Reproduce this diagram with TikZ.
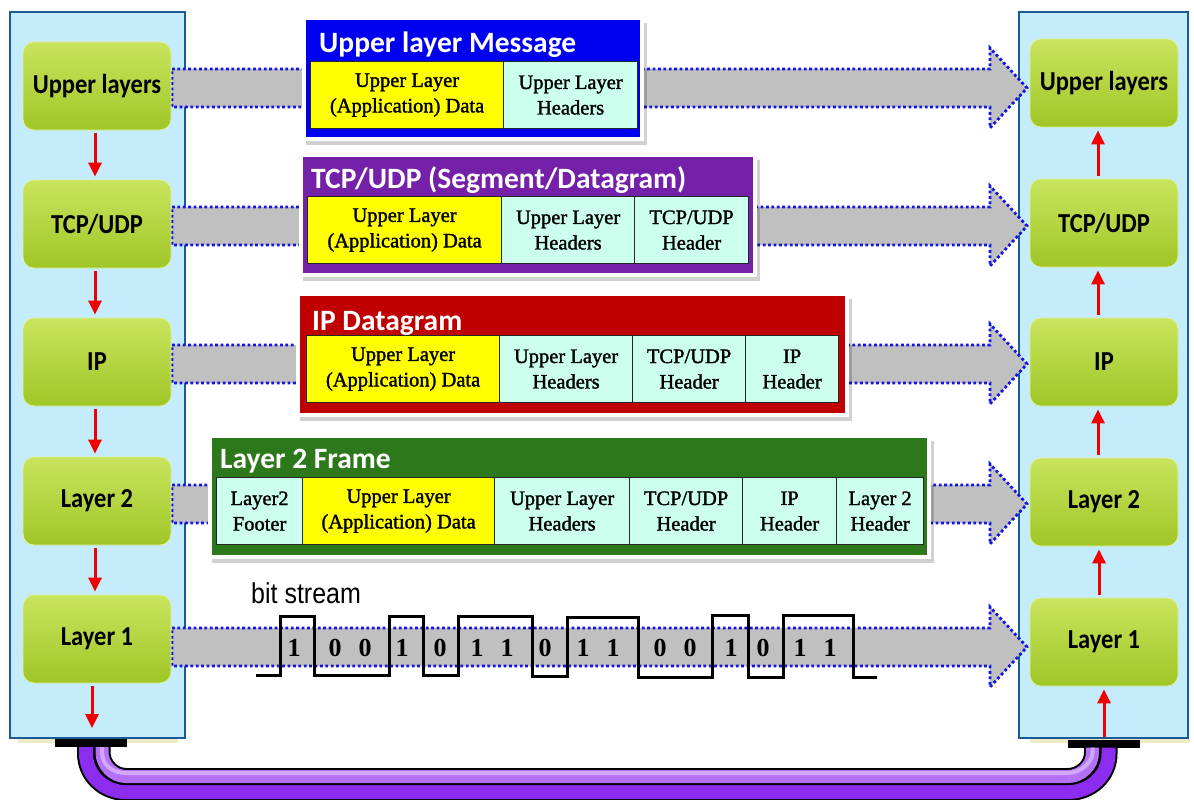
\documentclass[tikz,border=0pt]{standalone}
\usepackage{fontspec}
\setmainfont{Liberation Serif}
\newfontfamily\calfont{Carlito}
\newfontfamily\lsans{Liberation Sans}
\newfontfamily\cellfont[FakeBold=1.5]{Liberation Serif}
\usetikzlibrary{calc,arrows.meta}
\definecolor{panelfill}{HTML}{C4ECFB}
\definecolor{paneldraw}{HTML}{1A5A96}
\definecolor{gtop}{HTML}{C9E45E}
\definecolor{gbot}{HTML}{A0C626}
\definecolor{bandgray}{HTML}{C0C0C0}
\definecolor{dotblue}{HTML}{1515E0}
\definecolor{msgblue}{HTML}{0000F0}
\definecolor{msgpurple}{HTML}{7420A8}
\definecolor{msgred}{HTML}{C00000}
\definecolor{msggreen}{HTML}{2E781C}
\definecolor{cellyellow}{HTML}{FFFF00}
\definecolor{cellmint}{HTML}{CCFFEE}
\definecolor{arrowred}{HTML}{F00000}
\definecolor{cablelight}{HTML}{B470F6}
\definecolor{cabledark}{HTML}{8C2CEE}
\definecolor{strip}{HTML}{EEEBC4}
\newcommand{\tall}[1]{\scalebox{1}[1.12]{#1}}
\begin{document}
\begin{tikzpicture}[x=1pt,y=-1pt,
  panel/.style={fill=panelfill,draw=paneldraw,line width=2.5pt},
  gbox/.style={rounded corners=11pt,minimum width=148pt,minimum height=88pt,inner sep=0pt,
    top color=gtop,bottom color=gbot,draw=gtop!60!white,line width=0.8pt,
    font=\calfont\bfseries\fontsize{24.5}{28}\selectfont,text=black},
  band/.style={fill=bandgray,draw=dotblue,line width=2.8pt,dash pattern=on 2.8pt off 2.6pt},
  redarrow/.style={draw=arrowred,line width=3pt,-{Triangle[length=14pt,width=13pt]}},
  conn/.style={fill=black,minimum width=72pt,minimum height=8pt,inner sep=0pt},
  frame/.style={fill=white},
  shade/.style={fill=black,opacity=0.18},
  cell/.style={draw=black!85,line width=1.2pt,anchor=north west,inner sep=0pt,
    minimum height=67pt,align=center,
    font=\cellfont\fontsize{20.5}{25.5}\selectfont},
  ycell/.style={cell,fill=cellyellow},
  mcell/.style={cell,fill=cellmint},
  title/.style={anchor=base west,inner sep=0pt,text=white,
    font=\calfont\bfseries\fontsize{29.5}{34}\selectfont},
  bit/.style={font=\fontseries{b}\selectfont\fontsize{26}{28}\selectfont,inner sep=0pt},
  wave/.style={draw=black,line width=3pt},
]
\useasboundingbox (0,0) rectangle (1194,800);
% panels
\draw[panel] (10,12) rectangle (185,738);
\draw[panel] (1019,12) rectangle (1188,738);
\fill[strip] (18,739) rectangle (178,743);
\fill[strip] (1030,739) rectangle (1190,743);
\node[conn] (cL) at (91,743) {};
\node[conn] (cR) at (1103.5,743.5) {};
% cable
\coordinate (aL) at ($(cL.south)+(11,0)$);
\coordinate (bL) at ($(cL.south)+(-5,0)$);
\coordinate (aR) at ($(cR.south)+(-11,0)$);
\coordinate (bR) at ($(cR.south)+(5,0)$);
\draw[line width=18pt,black] (bL) -- ++(0,6) .. controls ++(0,22) and (104,792) .. (126,792) -- (1068,792) .. controls (1090,792) and ($(bR)+(0,28)$) .. ($(bR)+(0,6)$) -- (bR);
\draw[line width=14pt,cabledark] (bL) -- ++(0,6) .. controls ++(0,22) and (104,792) .. (126,792) -- (1068,792) .. controls (1090,792) and ($(bR)+(0,28)$) .. ($(bR)+(0,6)$) -- (bR);
\draw[line width=17pt,black] (aL) -- ++(0,5) .. controls ++(0,13) and (113,776.5) .. (126,776.5) -- (1068,776.5) .. controls (1081,776.5) and ($(aR)+(0,18)$) .. ($(aR)+(0,5)$) -- (aR);
\draw[line width=13pt,cablelight] (aL) -- ++(0,5) .. controls ++(0,13) and (113,776.5) .. (126,776.5) -- (1068,776.5) .. controls (1081,776.5) and ($(aR)+(0,18)$) .. ($(aR)+(0,5)$) -- (aR);
\draw[line width=4pt,cablelight!60!white] (aL) -- ++(0,5) .. controls ++(0,13) and (113,773) .. (126,773) -- (1068,773) .. controls (1081,773) and ($(aR)+(0,14)$) .. ($(aR)+(0,5)$) -- (aR);
% bands
\foreach \c in {88,226,364,504,647}{
  \filldraw[band] (172,\c-19) -- (990,\c-19) -- (990,\c-40) -- (1027,\c) -- (990,\c+40) -- (990,\c+19) -- (172,\c+19) -- cycle;
}
% green boxes
\node[gbox] (L1) at (97,86) {\tall{Upper layers}};
\node[gbox] (L2) at (97,224) {\tall{TCP/UDP}};
\node[gbox] (L3) at (97,362) {\tall{IP}};
\node[gbox] (L4) at (97,501) {\tall{Layer 2}};
\node[gbox] (L5) at (97,639) {\tall{Layer 1}};
\node[gbox] (R1) at (1104,83) {\tall{Upper layers}};
\node[gbox] (R2) at (1104,223) {\tall{TCP/UDP}};
\node[gbox] (R3) at (1104,362) {\tall{IP}};
\node[gbox] (R4) at (1104,502) {\tall{Layer 2}};
\node[gbox] (R5) at (1104,642) {\tall{Layer 1}};
\coordinate (lend) at (92,728);
\coordinate (rstart) at (1104,737);
\draw[redarrow,shorten <=3pt,shorten >=3pt] ($(L1.south)+(-2,0)$) -- ($(L2.north)+(-2,0)$);
\draw[redarrow,shorten <=3pt,shorten >=3pt] ($(L2.south)+(-2,0)$) -- ($(L3.north)+(-2,0)$);
\draw[redarrow,shorten <=3pt,shorten >=3pt] ($(L3.south)+(-2,0)$) -- ($(L4.north)+(-2,0)$);
\draw[redarrow,shorten <=3pt,shorten >=3pt] ($(L4.south)+(-2,0)$) -- ($(L5.north)+(-2,0)$);
\draw[redarrow,shorten <=3pt] ($(L5.south)+(-5,0)$) -- (lend);
\draw[redarrow,shorten <=3pt,shorten >=3pt] ($(R2.north)+(-6,0)$) -- ($(R1.south)+(-6,0)$);
\draw[redarrow,shorten <=3pt,shorten >=3pt] ($(R3.north)+(-6,0)$) -- ($(R2.south)+(-6,0)$);
\draw[redarrow,shorten <=3pt,shorten >=3pt] ($(R4.north)+(-6,0)$) -- ($(R3.south)+(-6,0)$);
\draw[redarrow,shorten <=3pt,shorten >=3pt] ($(R5.north)+(-5,0)$) -- ($(R4.south)+(-5,0)$);
\draw[redarrow,shorten >=3pt] (rstart) -- (R5.south);
% message box 1
\fill[shade] (306,23) rectangle (647,145);
\fill[frame] (302,16) rectangle (644,141);
\fill[msgblue] (306,20) rectangle (640,137);
\node[title] (t1) at (319,53) {Upper layer Message};
\node[ycell,minimum width=193pt] (m1a) at (310,61) {Upper Layer\\(Application) Data};
\node[mcell,minimum width=134pt] (m1b) at (503,61) {Upper Layer\\Headers};
% message box 2
\fill[shade] (303,160) rectangle (760,281);
\fill[frame] (299,153) rectangle (757,277);
\fill[msgpurple] (303,157) rectangle (753,273);
\node[title] (t2) at (311,188) {TCP/UDP (Segment/Datagram)};
\node[ycell,minimum width=194pt] (m2a) at (307,196) {Upper Layer\\(Application) Data};
\node[mcell,minimum width=133pt] (m2b) at (501,196) {Upper Layer\\Headers};
\node[mcell,minimum width=114pt] (m2c) at (634,196) {TCP/UDP\\Header};
% message box 3
\fill[shade] (300,299) rectangle (852,421);
\fill[frame] (296,292) rectangle (849,417);
\fill[msgred] (300,296) rectangle (845,413);
\node[title] (t3) at (312,330) {IP Datagram};
\node[ycell,minimum width=193pt] (m3a) at (306,335) {Upper Layer\\(Application) Data};
\node[mcell,minimum width=133pt] (m3b) at (499,335) {Upper Layer\\Headers};
\node[mcell,minimum width=113pt] (m3c) at (632,335) {TCP/UDP\\Header};
\node[mcell,minimum width=93pt] (m3d) at (745,335) {IP\\Header};
% message box 4
\fill[shade] (212,441) rectangle (934,563);
\fill[frame] (208,434) rectangle (931,559);
\fill[msggreen] (212,438) rectangle (927,555);
\node[title] (t4) at (220,468) {Layer 2 Frame};
\node[mcell,minimum width=86pt] (m4a) at (216,477) {Layer2\\Footer};
\node[ycell,minimum width=192pt] (m4b) at (302,477) {Upper Layer\\(Application) Data};
\node[mcell,minimum width=135pt] (m4c) at (494,477) {Upper Layer\\Headers};
\node[mcell,minimum width=113pt] (m4d) at (629,477) {TCP/UDP\\Header};
\node[mcell,minimum width=94pt] (m4e) at (742,477) {IP\\Header};
\node[mcell,minimum width=87pt] (m4f) at (836,477) {Layer 2\\Header};
% bit stream
\node[anchor=base west,inner sep=0pt,font=\lsans\fontsize{25}{28}\selectfont] (bs) at (251,603) {\scalebox{1}[1.15]{bit stream}};
\draw[wave] (256,675) -- (280,675) -- (280,616) -- (314,616) -- (314,675) -- (389,675) -- (389,616) -- (423,616) -- (423,675) -- (458,675) -- (458,616) -- (532,616) -- (532,676) -- (567,676) -- (567,617) -- (638,617) -- (638,677) -- (712,677) -- (712,615) -- (748,615) -- (748,677) -- (783,677) -- (783,615) -- (853,615) -- (853,677) -- (877,677);
\foreach \x/\b [count=\i] in {294/1,335/0,365/0,402/1,440/0,477/1,507/1,545/0,583/1,613/1,660/0,690/0,731/1,763/0,800/1,830/1}{
  \node[bit] (b\i) at (\x,648) {\b};
}
\end{tikzpicture}
\end{document}
